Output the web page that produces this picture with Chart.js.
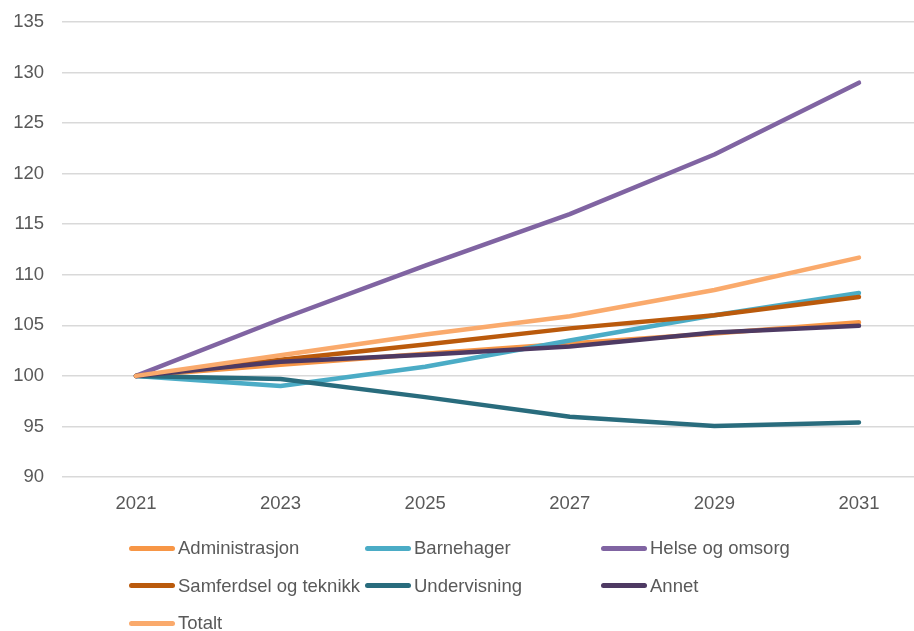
<!DOCTYPE html>
<html>
<head>
<meta charset="utf-8">
<script src="https://cdn.jsdelivr.net/npm/chart.js@4.4.0/dist/chart.umd.min.js"></script>
<style>
  body { margin: 0; background: #fff; }
  #wrap { position: relative; width: 914px; height: 631px; }
  #legend { position: absolute; left: 129px; top: 530px; width: 700px; }
  .item { position: absolute; display: flex; align-items: center; height: 36px;
    font-family: "Liberation Sans", Arial, sans-serif;
    font-size: 18.5px; color: #595959; white-space: nowrap; }
  .swatch { width: 46px; height: 5px; border-radius: 2.5px; margin-right: 3px; }
</style>
</head>
<body>
<div id="wrap">
  <canvas id="grafico" width="914" height="631"></canvas>
  <div id="legend"></div>
</div>
<script>
const aar = [2021, 2023, 2025, 2027, 2029, 2031];
const yTicks = [90, 95, 100, 105, 110, 115, 120, 125, 130, 135];

const navn = ['Administrasjon', 'Barnehager', 'Helse og omsorg', 'Samferdsel og teknikk', 'Undervisning', 'Annet', 'Totalt'];

const administrasjon = [100, 101.1, 102.2, 103.2, 104.2, 105.3];
const barnehager = [100, 99.0, 100.9, 103.5, 106.0, 108.2];
const helse = [100, 105.6, 110.9, 116.0, 121.9, 129.0];
const samferdsel = [100, 101.6, 103.1, 104.7, 106.0, 107.8];
const undervisning = [100, 99.7, 97.9, 95.95, 95.05, 95.4];
const annet = [100, 101.4, 102.1, 102.9, 104.3, 104.95];
const totalt = [100, 102.05, 104.1, 105.9, 108.5, 111.7];

const serier = [administrasjon, barnehager, helse, samferdsel, undervisning, annet, totalt];
const farger = ['#F79646', '#4BACC6', '#8064A2', '#BA5A0C', '#296C7D', '#4E3A63', '#FAAA6C'];

const datasets = serier.map((verdier, i) => ({
  label: navn[i],
  data: verdier.map((v, j) => ({ x: aar[j], y: v })),
  borderColor: farger[i],
  backgroundColor: farger[i],
  borderWidth: 4.5,
  borderCapStyle: 'round',
  borderJoinStyle: 'round',
  pointRadius: 0,
  tension: 0,
  order: serier.length - i,
}));

const ctx = document.getElementById('grafico').getContext('2d');
const chart = new Chart(ctx, {
  type: 'line',
  data: { datasets },
  options: {
    responsive: false,
    animation: false,
    layout: { padding: { top: 22, right: 0, left: 0, bottom: 0 } },
    plugins: { legend: { display: false }, tooltip: { enabled: false } },
    scales: {
      x: {
        type: 'linear',
        min: 2019.977,
        max: 2031.761,
        afterBuildTicks: (axis) => { axis.ticks = aar.map((v) => ({ value: v })); },
        afterFit: (axis) => {
          axis.height = 154;
          axis.paddingLeft = 0;
          axis.paddingRight = 0;
        },
        grid: { display: false, drawTicks: false },
        border: { display: false },
        ticks: {
          padding: 16,
          color: '#595959',
          font: { family: 'Liberation Sans', size: 18.5 },
          callback: (v) => String(v),
        },
      },
      y: {
        min: 90,
        max: 135,
        afterBuildTicks: (axis) => { axis.ticks = yTicks.map((v) => ({ value: v })); },
        afterFit: (axis) => {
          axis.width = 62;
          axis.paddingTop = 0;
          axis.paddingBottom = 0;
        },
        grid: { color: '#D9D9D9', lineWidth: 1.5, drawTicks: false },
        border: { display: false },
        ticks: {
          padding: 18,
          color: '#595959',
          font: { family: 'Liberation Sans', size: 18.5 },
        },
      },
    },
  },
});

const legend = document.getElementById('legend');
chart.data.datasets.forEach((ds, i) => {
  const item = document.createElement('div');
  item.className = 'item';
  item.style.left = (i % 3) * 236 + 'px';
  item.style.top = Math.floor(i / 3) * 37.5 + 'px';
  const swatch = document.createElement('span');
  swatch.className = 'swatch';
  swatch.style.background = ds.borderColor;
  item.appendChild(swatch);
  item.appendChild(document.createTextNode(ds.label));
  legend.appendChild(item);
});
</script>
</body>
</html>
